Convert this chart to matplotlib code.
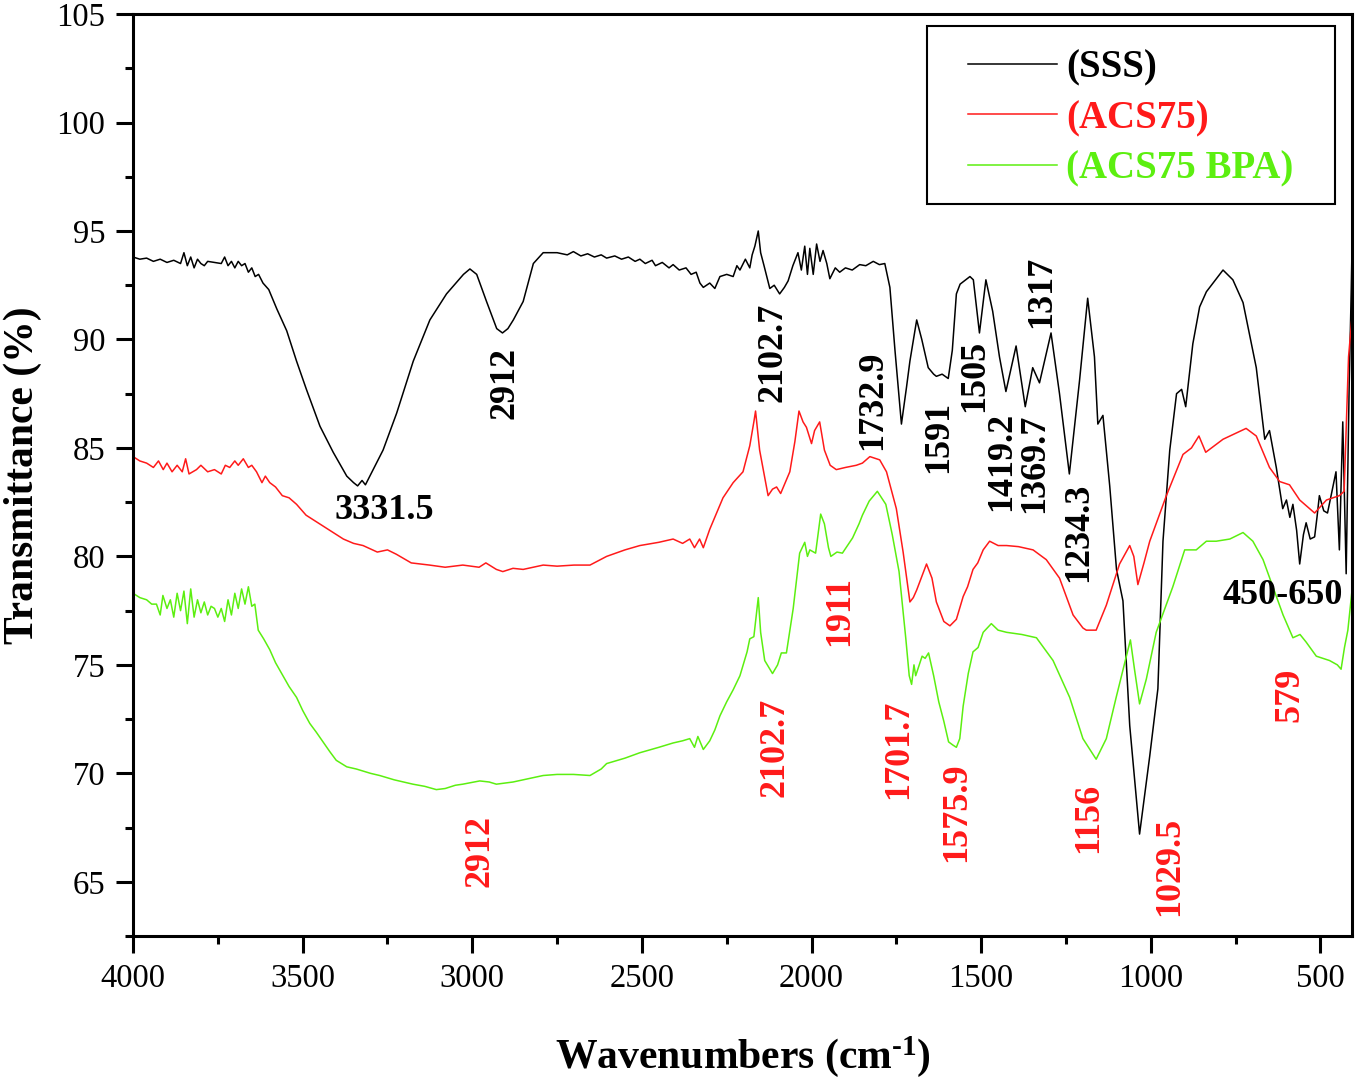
import matplotlib
matplotlib.use("Agg")
import matplotlib.pyplot as plt
from matplotlib.patches import Rectangle
from matplotlib.ticker import MultipleLocator

plt.rcParams['font.family'] = ['Liberation Serif', 'DejaVu Serif']
plt.rcParams['mathtext.fontset'] = 'custom'
plt.rcParams['mathtext.rm'] = 'Liberation Serif:bold'
plt.rcParams['mathtext.bf'] = 'Liberation Serif:bold'
plt.rcParams['mathtext.it'] = 'Liberation Serif:bold'

# ---------------- data ----------------
sss_wn = [4000, 3980, 3960, 3940, 3920, 3900, 3880, 3860, 3850, 3840, 3830, 3820, 3810, 3800,
          3790, 3780, 3760, 3740, 3730, 3720, 3710, 3700, 3690, 3680, 3670, 3660, 3650, 3640,
          3630, 3617, 3600, 3576, 3547, 3518, 3489, 3449, 3410, 3370, 3350, 3338, 3325, 3315,
          3302, 3263, 3223, 3174, 3125, 3076, 3026, 3007, 2987, 2958, 2928, 2911, 2895, 2879,
          2850, 2820, 2791, 2750, 2720, 2702, 2680, 2660, 2640, 2620, 2604, 2580, 2560, 2540,
          2520, 2506, 2490, 2470, 2460, 2440, 2420, 2408, 2390, 2370, 2355, 2340, 2329,
          2319, 2300, 2285, 2270, 2250, 2231, 2220, 2211, 2195, 2182, 2175, 2167, 2157, 2150,
          2140, 2123, 2110, 2094, 2080, 2069, 2055, 2040, 2030, 2020, 2012, 2005, 1995, 1985,
          1975, 1966, 1955, 1946, 1930, 1917, 1900, 1880, 1858, 1840, 1818, 1800, 1784, 1769,
          1754, 1735, 1720, 1710, 1690, 1675, 1656, 1640, 1632, 1615, 1597, 1585, 1573, 1562,
          1533, 1523, 1505, 1486, 1466, 1446, 1427, 1397, 1370, 1348, 1328, 1294, 1269, 1240,
          1210, 1186, 1166, 1156, 1141, 1121, 1101, 1082, 1062, 1033, 1003, 979, 964, 944,
          924, 909, 897, 876, 856, 836, 787, 758, 728, 689, 664, 650, 630, 611, 600, 590,
          581, 570, 561, 550, 542, 530, 517, 510, 503, 490, 479, 466, 454, 444, 434, 424,
          415, 409, 407]
sss_t = [93.8, 93.7, 93.75, 93.6, 93.7, 93.55, 93.65, 93.5, 94.0, 93.4, 93.8, 93.3, 93.7, 93.5,
         93.4, 93.6, 93.55, 93.5, 93.8, 93.4, 93.6, 93.3, 93.6, 93.4, 93.5, 93.1, 93.3, 92.9,
         93.0, 92.6, 92.3, 91.4, 90.4, 89.0, 87.7, 86.0, 84.8, 83.7, 83.4, 83.25, 83.5, 83.3,
         83.7, 84.9, 86.6, 89.0, 90.9, 92.1, 93.0, 93.25, 93.0, 91.75, 90.5, 90.3, 90.5, 90.9,
         91.75, 93.5, 94.0, 94.0, 93.9, 94.05, 93.85, 93.95, 93.8, 93.9, 93.75, 93.85, 93.7, 93.8,
         93.6, 93.7, 93.5, 93.65, 93.4, 93.55, 93.3, 93.45, 93.2, 93.3, 93.0, 93.1, 92.6,
         92.4, 92.6, 92.35, 92.9, 93.0, 92.9, 93.4, 93.2, 93.7, 93.3, 93.9, 94.3, 95.0, 94.0,
         93.4, 92.35, 92.5, 92.1, 92.4, 92.7, 93.4, 94.0, 93.2, 94.3, 93.0, 94.2, 93.0, 94.4,
         93.6, 94.1, 93.5, 92.8, 93.3, 93.1, 93.3, 93.2, 93.45, 93.4, 93.6, 93.45, 93.5, 92.4,
         89.5, 86.1, 87.8, 89.0, 90.9, 90.0, 88.7, 88.4, 88.3, 88.4, 88.2, 89.5, 92.1, 92.55,
         92.9, 92.75, 90.3, 92.75, 91.3, 89.2, 87.6, 89.7, 86.9, 88.7, 88.0, 90.3, 87.5, 83.8,
         88.1, 91.9, 89.2, 86.1, 86.5, 83.25, 79.4, 77.95, 72.2, 67.2, 70.8, 73.9, 80.7, 84.9,
         87.5, 87.7, 86.9, 89.8, 91.5, 92.2, 93.2, 92.75, 91.7, 88.7, 85.4, 85.8, 84.1, 82.2, 82.6, 81.8,
         82.4, 81.2, 79.65, 81.0, 81.55, 80.8, 80.9, 81.8, 82.8, 82.1, 82.0, 83.0, 83.9, 80.3, 86.2, 79.2,
         88.0, 92.3, 94.0]

acs_wn = [4000, 3980, 3960, 3940, 3925, 3911, 3900, 3885, 3870, 3855, 3845, 3835, 3813, 3800,
          3780, 3760, 3740, 3728, 3715, 3700, 3690, 3675, 3660, 3650, 3636, 3620, 3610, 3597,
          3580, 3560, 3540, 3518, 3490, 3460, 3420, 3380, 3350, 3322, 3280, 3250, 3224, 3180,
          3126, 3080, 3028, 2980, 2960, 2929, 2910, 2880, 2850, 2820, 2791, 2750, 2700, 2653,
          2604, 2550, 2506, 2450, 2408, 2380, 2359, 2345, 2330, 2319, 2300, 2280, 2261, 2231,
          2202, 2182, 2170, 2165, 2153, 2128, 2115, 2103, 2091, 2064, 2049, 2037, 2025, 2015,
          2000, 1991, 1976, 1962, 1945, 1927, 1900, 1868, 1850, 1828, 1799, 1779, 1750, 1730,
          1710, 1700, 1690, 1661, 1645, 1632, 1610, 1592, 1573, 1553, 1540, 1524, 1510, 1494,
          1475, 1450, 1425, 1390, 1347, 1308, 1269, 1229, 1200, 1190, 1161, 1131, 1092, 1062,
          1050, 1038, 1020, 1003, 954, 905, 880, 858, 838, 787, 719, 689, 650, 620, 591, 561,
          517, 482, 444, 430, 417, 407]
acs_t = [84.6, 84.4, 84.3, 84.1, 84.4, 84.0, 84.3, 83.9, 84.2, 83.9, 84.5, 83.8, 84.0, 84.2,
         83.9, 84.0, 83.8, 84.2, 84.1, 84.4, 84.2, 84.5, 84.1, 84.2, 83.9, 83.4, 83.7, 83.4,
         83.2, 82.8, 82.7, 82.4, 81.9, 81.6, 81.2, 80.8, 80.6, 80.5, 80.2, 80.3, 80.1, 79.7,
         79.6, 79.5, 79.6, 79.5, 79.7, 79.4, 79.3, 79.45, 79.4, 79.5, 79.6, 79.55, 79.6, 79.6,
         80.0, 80.3, 80.5, 80.65, 80.8, 80.6, 80.8, 80.4, 80.8, 80.4, 81.25, 82.0, 82.7, 83.4,
         83.9, 85.1, 86.2, 86.7, 84.9, 82.8, 83.1, 83.2, 82.9, 83.9, 85.3, 86.7, 86.2, 85.95,
         85.2, 85.8, 86.2, 84.9, 84.2, 84.0, 84.1, 84.2, 84.3, 84.6, 84.45, 83.9, 82.2, 80.2,
         77.9, 78.1, 78.45, 79.65, 79.0, 77.9, 77.0, 76.8, 77.1, 78.15, 78.6, 79.4, 79.7, 80.3,
         80.7, 80.5, 80.5, 80.45, 80.3, 79.85, 79.0, 77.3, 76.7, 76.6, 76.6, 77.75, 79.65, 80.5,
         80.0, 78.7, 79.7, 80.7, 82.8, 84.7, 85.0, 85.55, 84.8, 85.4, 85.9, 85.55, 84.1, 83.45, 83.3, 82.6,
         82.0, 82.6, 82.8, 83.0, 89.2, 91.0]

bpa_wn = [4000, 3980, 3960, 3945, 3931, 3920, 3912, 3900, 3890, 3880, 3870, 3860, 3850, 3840,
          3830, 3820, 3810, 3800, 3790, 3780, 3770, 3760, 3750, 3740, 3730, 3720, 3710, 3700,
          3690, 3680, 3670, 3660, 3650, 3641, 3631, 3615, 3597, 3580, 3558, 3540, 3518, 3500,
          3479, 3460, 3440, 3420, 3401, 3370, 3342, 3300, 3273, 3230, 3175, 3140, 3106, 3080,
          3050, 3028, 2978, 2950, 2929, 2880, 2850, 2791, 2750, 2702, 2653, 2620, 2604, 2550,
          2506, 2450, 2408, 2380, 2359, 2345, 2335, 2319, 2300, 2285, 2270, 2250, 2231, 2211,
          2190, 2182, 2170, 2157, 2150, 2138, 2115, 2100, 2089, 2074, 2054, 2035, 2020, 2012,
          2005, 1988, 1973, 1962, 1950, 1943, 1925, 1909, 1879, 1860, 1850, 1830, 1806, 1781,
          1762, 1742, 1722, 1712, 1705, 1698, 1693, 1674, 1665, 1655, 1640, 1625, 1610, 1596,
          1583, 1573, 1563, 1553, 1538, 1524, 1509, 1494, 1470, 1450, 1425, 1380, 1337, 1288,
          1239, 1200, 1161, 1131, 1102, 1072, 1060, 1048, 1033, 1013, 984, 935, 900, 866, 836,
          807, 767, 728, 699, 669, 640, 610, 581, 560, 542, 512, 473, 450, 439, 429, 419, 407]
bpa_t = [78.3, 78.1, 78.0, 77.8, 77.8, 77.3, 78.2, 77.6, 78.0, 77.2, 78.3, 77.5, 78.4, 76.9,
         78.5, 77.2, 78.0, 77.4, 77.9, 77.3, 77.7, 77.6, 77.2, 77.6, 77.0, 78.0, 77.3, 78.3,
         77.6, 78.5, 77.8, 78.6, 77.7, 77.8, 76.6, 76.2, 75.7, 75.1, 74.5, 74.0, 73.5, 72.9,
         72.3, 71.9, 71.45, 71.0, 70.6, 70.3, 70.2, 70.0, 69.9, 69.7, 69.5, 69.4, 69.25, 69.3,
         69.45, 69.5, 69.65, 69.6, 69.5, 69.6, 69.7, 69.9, 69.95, 69.95, 69.9, 70.2, 70.45, 70.7,
         70.95, 71.2, 71.4, 71.5, 71.6, 71.2, 71.7, 71.1, 71.5, 72.0, 72.65, 73.3, 73.85, 74.5,
         75.6, 76.2, 76.3, 78.1, 76.5, 75.2, 74.6, 75.0, 75.55, 75.55, 77.6, 80.15, 80.65, 80.0,
         80.3, 80.15, 81.95, 81.5, 80.4, 80.0, 80.2, 80.15, 80.85, 81.5, 81.9, 82.55, 83.0, 82.4,
         81.0, 79.3, 76.2, 74.5, 74.1, 75.0, 74.5, 75.4, 75.3, 75.55, 74.5, 73.3, 72.4, 71.45,
         71.3, 71.2, 71.6, 73.1, 74.6, 75.6, 75.8, 76.5, 76.9, 76.6, 76.5, 76.4, 76.25, 75.2,
         73.5, 71.6, 70.65, 71.6, 73.5, 75.4, 76.15, 74.8, 73.2, 74.35, 76.5, 78.6, 80.3, 80.3, 80.7,
         80.7, 80.8, 81.1, 80.7, 79.85, 78.6, 77.3, 76.25, 76.4, 76.05, 75.4, 75.2, 75.0, 74.8, 75.8, 76.6, 78.4]

series_names = ['(SSS)', '(ACS75)', '(ACS75 BPA)']

# peak labels
black_labels = ['3331.5', '2912', '2102.7', '1732.9', '1591', '1505', '1419.2',
                '1369.7', '1317', '1234.3', '450-650']
black_wn = [3258, 2904, 2115, 1819, 1625, 1519, 1440, 1341, 1322, 1214, 611]
black_t = [82.1, 88.0, 89.4, 87.2, 85.5, 88.3, 84.4, 84.3, 92.2, 81.1, 78.2]
black_rot = [0, 90, 90, 90, 90, 90, 90, 90, 90, 90, 0]

red_labels = ['2912', '2102.7', '1911', '1701.7', '1575.9', '1156', '1029.5', '579']
red_wn = [2978, 2109, 1916, 1742, 1572, 1184, 943, 590]
red_t = [66.4, 71.2, 77.5, 71.1, 68.2, 67.95, 65.7, 73.6]

# ---------------- figure ----------------
fig = plt.figure(figsize=(13.59, 10.81), dpi=100)
ax = fig.add_axes([0.0979, 0.1341, 0.8969, 0.8529])

c_black, c_red, c_green = '#000000', '#ff1a1a', '#5cef10'
l1, = ax.plot(sss_wn, sss_t, color=c_black, lw=1.1, label=series_names[0])
l2, = ax.plot(acs_wn, acs_t, color=c_red, lw=1.1, label=series_names[1])
l3, = ax.plot(bpa_wn, bpa_t, color=c_green, lw=1.1, label=series_names[2])

ax.set_xlim(4000, 407)
ax.set_ylim(62.5, 105)
ax.xaxis.set_major_locator(MultipleLocator(500))
ax.xaxis.set_minor_locator(MultipleLocator(250))
ax.yaxis.set_major_locator(MultipleLocator(5))
ax.yaxis.set_minor_locator(MultipleLocator(2.5))
ax.tick_params(which='major', direction='out', length=12, width=2.2, labelsize=23.5, pad=8,
               top=False, right=False)
ax.tick_params(which='minor', direction='out', length=6, width=2.2, top=False, right=False)
for s in ax.spines.values():
    s.set_linewidth(2.2)

ax.set_xlabel(r'Wavenumbers (cm$^{\text{-1}}$)', fontsize=30, fontweight='bold')
ax.set_ylabel('Transmittance (%)', fontsize=30, fontweight='bold')
ax.xaxis.set_label_coords(0.5, -0.106)
ax.yaxis.set_label_coords(-0.0747, 0.5)

ann_font = dict(fontsize=26, fontweight='bold', ha='center', va='center')
for txt, xw, yt, rot in zip(black_labels, black_wn, black_t, black_rot):
    ax.text(xw, yt, txt, rotation=rot, color='black', **ann_font)
for txt, xw, yt in zip(red_labels, red_wn, red_t):
    ax.text(xw, yt, txt, rotation=90, color=c_red, **ann_font)

leg = ax.legend(handles=[l1, l2, l3], loc='upper left', bbox_to_anchor=(0.685, 0.9617),
                frameon=False, borderpad=0, borderaxespad=0, handlelength=2.29,
                handletextpad=0.23, labelspacing=0.35, labelcolor='linecolor',
                prop={'family': 'Liberation Serif', 'weight': 'bold', 'size': 28})
ax.add_patch(Rectangle((0.651, 0.794), 0.335, 0.193, transform=ax.transAxes,
                       fill=False, lw=1.5, ec='black', zorder=5))

fig.savefig('out.png', dpi=100)
